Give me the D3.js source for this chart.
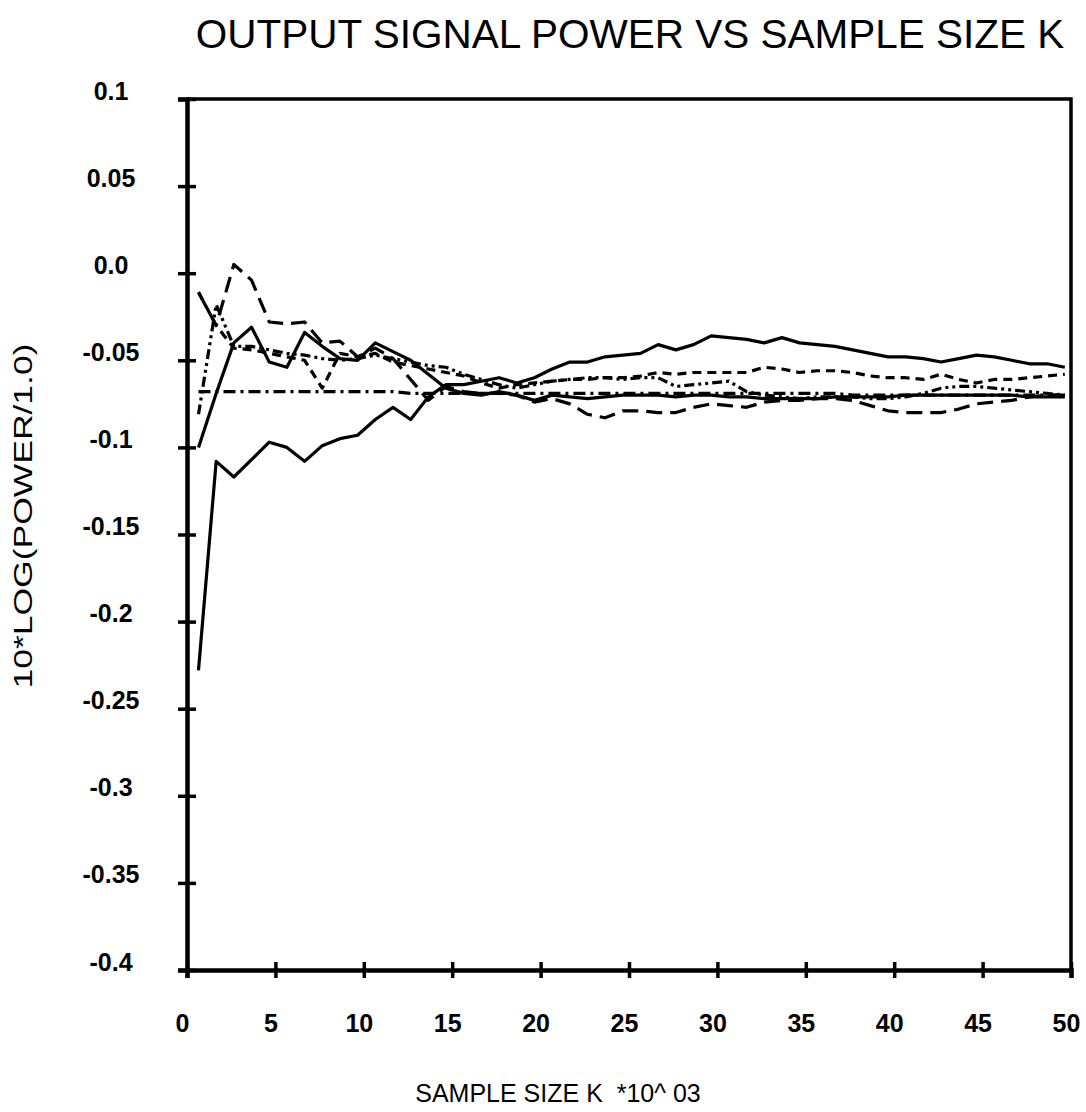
<!DOCTYPE html>
<html>
<head>
<meta charset="utf-8">
<script src="https://cdn.jsdelivr.net/npm/d3@7"></script>
<style>
  body { margin: 0; background: #fff; }
  svg { display: block; }
  text { font-family: "Liberation Sans", Arial, sans-serif; fill: #000; }
</style>
</head>
<body>
<div id="chart"></div>
<script>
// sample sizes (K * 10^3) where every run was measured
const sampleK = [0.65, 1.65, 2.65, 3.65, 4.65, 5.65, 6.65, 7.65, 8.65, 9.65,
  10.65, 11.65, 12.65, 13.65, 14.65, 15.65, 16.65, 17.65, 18.65, 19.65,
  20.65, 21.65, 22.65, 23.65, 24.65, 25.65, 26.65, 27.65, 28.65, 29.65,
  30.65, 31.65, 32.65, 33.65, 34.65, 35.65, 36.65, 37.65, 38.65, 39.65,
  40.65, 41.65, 42.65, 43.65, 44.65, 45.65, 46.65, 47.65, 48.65, 49.65];

// 10*log(power/1.0) for each run
const lowerSolid = [-0.228, -0.108, -0.117, -0.107, -0.097, -0.100, -0.108, -0.099, -0.095, -0.093,
  -0.084, -0.077, -0.084, -0.071, -0.064, -0.064, -0.062, -0.060, -0.063, -0.060,
  -0.055, -0.051, -0.051, -0.048, -0.047, -0.046, -0.041, -0.044, -0.041, -0.036,
  -0.037, -0.038, -0.040, -0.037, -0.040, -0.041, -0.042, -0.044, -0.046, -0.048,
  -0.048, -0.049, -0.051, -0.049, -0.047, -0.048, -0.050, -0.052, -0.052, -0.054];
const upperSolid = [-0.100, -0.069, -0.040, -0.031, -0.051, -0.054, -0.034, -0.042, -0.049, -0.050,
  -0.040, -0.045, -0.050, -0.058, -0.066, -0.069, -0.070, -0.068, -0.070, -0.073,
  -0.070, -0.071, -0.072, -0.071, -0.070, -0.070, -0.070, -0.071, -0.070, -0.070,
  -0.071, -0.071, -0.072, -0.072, -0.072, -0.072, -0.071, -0.071, -0.071, -0.071,
  -0.070, -0.070, -0.070, -0.070, -0.070, -0.070, -0.070, -0.071, -0.071, -0.071];
const longDash = [-0.011, -0.030, 0.005, -0.004, -0.028, -0.029, -0.028, -0.040, -0.039, -0.048,
  -0.043, -0.049, -0.061, -0.073, -0.065, -0.068, -0.069, -0.069, -0.070, -0.074,
  -0.072, -0.075, -0.081, -0.083, -0.079, -0.079, -0.080, -0.080, -0.077, -0.075,
  -0.076, -0.077, -0.074, -0.073, -0.073, -0.072, -0.072, -0.073, -0.076, -0.079,
  -0.080, -0.080, -0.080, -0.078, -0.075, -0.074, -0.073, -0.071, -0.070, -0.070];
const shortDash = [-0.011, -0.030, -0.043, -0.044, -0.046, -0.048, -0.050, -0.066, -0.046, -0.048,
  -0.046, -0.051, -0.053, -0.055, -0.057, -0.059, -0.063, -0.066, -0.064, -0.063,
  -0.062, -0.061, -0.061, -0.060, -0.060, -0.059, -0.057, -0.058, -0.057, -0.057,
  -0.057, -0.057, -0.054, -0.055, -0.057, -0.056, -0.056, -0.057, -0.059, -0.060,
  -0.060, -0.061, -0.058, -0.061, -0.063, -0.061, -0.061, -0.060, -0.059, -0.058];
const dashDotDot = [-0.081, -0.018, -0.042, -0.042, -0.044, -0.046, -0.047, -0.049, -0.050, -0.049,
  -0.047, -0.049, -0.051, -0.053, -0.054, -0.058, -0.061, -0.064, -0.066, -0.064,
  -0.062, -0.061, -0.060, -0.060, -0.061, -0.060, -0.060, -0.065, -0.064, -0.063,
  -0.062, -0.068, -0.070, -0.071, -0.072, -0.071, -0.071, -0.071, -0.072, -0.072,
  -0.071, -0.069, -0.066, -0.065, -0.065, -0.066, -0.067, -0.068, -0.069, -0.070];
const reference = [-0.068, -0.068, -0.068, -0.068, -0.068, -0.068, -0.068, -0.068, -0.068, -0.068,
  -0.068, -0.068, -0.069, -0.069, -0.069, -0.069, -0.069, -0.069, -0.069, -0.069,
  -0.069, -0.069, -0.069, -0.069, -0.069, -0.069, -0.069, -0.069, -0.069, -0.069,
  -0.069, -0.069, -0.069, -0.069, -0.069, -0.069, -0.069, -0.070, -0.070, -0.070,
  -0.070, -0.070, -0.070, -0.070, -0.070, -0.070, -0.070, -0.070, -0.070, -0.070];

const xTicks = [0, 5, 10, 15, 20, 25, 30, 35, 40, 45, 50];
const yTicks = [0.1, 0.05, 0, -0.05, -0.1, -0.15, -0.2, -0.25, -0.3, -0.35, -0.4];
const yTickLabels = ["0.1", "0.05", "0.0", "-0.05", "-0.1", "-0.15", "-0.2", "-0.25", "-0.3", "-0.35", "-0.4"];

const series = [
  { values: reference, dash: "12,5,3,5" },
  { values: dashDotDot, dash: "10,4,3,4,3,4" },
  { values: shortDash, dash: "9,6" },
  { values: longDash, dash: "16,8" },
  { values: upperSolid, dash: null },
  { values: lowerSolid, dash: null }
];

const width = 1086, height = 1112;
const margin = { top: 99, right: 15, bottom: 142, left: 187 };

const svg = d3.select("#chart").append("svg")
  .attr("width", width)
  .attr("height", height);

const x = d3.scaleLinear().domain([0, 50]).range([margin.left, width - margin.right]);
const y = d3.scaleLinear().domain([-0.4, 0.1]).range([height - margin.bottom, margin.top]);

// title
svg.append("text")
  .attr("x", 630)
  .attr("y", 48)
  .attr("text-anchor", "middle")
  .style("font-size", "40.5px")
  .text("OUTPUT SIGNAL POWER VS SAMPLE SIZE K");

// frame (top and right edges)
svg.append("path")
  .attr("d", `M${x(0)},${y(0.1)}H${x(50)}V${y(-0.4)}`)
  .attr("fill", "none")
  .attr("stroke", "#000")
  .attr("stroke-width", 3.5);

// y axis, ticks cross the line
const yAxis = svg.append("g")
  .attr("transform", `translate(${x(0)},0)`)
  .call(d3.axisLeft(y).tickValues(yTicks).tickSize(9).tickFormat((d, i) => yTickLabels[i]));
yAxis.select(".domain").attr("stroke-width", 4.5);
yAxis.selectAll(".tick line").attr("x2", -9).attr("x1", 9).attr("stroke-width", 3.5);
yAxis.selectAll(".tick text")
  .attr("x", 111 - x(0))
  .attr("dy", 0)
  .attr("text-anchor", "middle")
  .style("font-size", "25px")
  .style("font-weight", "bold")
  .style("font-family", "'Liberation Sans', Arial, sans-serif");

// x axis
const xAxis = svg.append("g")
  .attr("transform", `translate(0,${y(-0.4)})`)
  .call(d3.axisBottom(x).tickValues(xTicks).tickSize(8).tickFormat(d3.format("d")));
xAxis.select(".domain").attr("stroke-width", 4.5);
xAxis.selectAll(".tick line").attr("y1", -8).attr("y2", 8).attr("stroke-width", 3.5);
xAxis.selectAll(".tick text")
  .attr("y", 62)
  .attr("dy", 0)
  .attr("dx", -5)
  .style("font-size", "25px")
  .style("font-weight", "bold")
  .style("font-family", "'Liberation Sans', Arial, sans-serif");

// axis titles
svg.append("text")
  .attr("x", 558)
  .attr("y", 1102)
  .attr("text-anchor", "middle")
  .style("font-size", "25px")
  .style("white-space", "pre")
  .text("SAMPLE SIZE K  *10^ 03");

svg.append("text")
  .attr("transform", "translate(32,516) rotate(-90)")
  .attr("text-anchor", "middle")
  .attr("textLength", 345)
  .attr("lengthAdjust", "spacingAndGlyphs")
  .style("font-size", "25px")
  .text("10*LOG(POWER/1.0)");

// the runs
const line = d3.line()
  .x((d, i) => x(sampleK[i]))
  .y(d => y(d));

svg.append("g")
  .selectAll("path")
  .data(series)
  .join("path")
  .attr("d", d => line(d.values))
  .attr("fill", "none")
  .attr("stroke", "#000")
  .attr("stroke-width", 3.2)
  .attr("stroke-linejoin", "round")
  .attr("stroke-dasharray", d => d.dash);
</script>
</body>
</html>
